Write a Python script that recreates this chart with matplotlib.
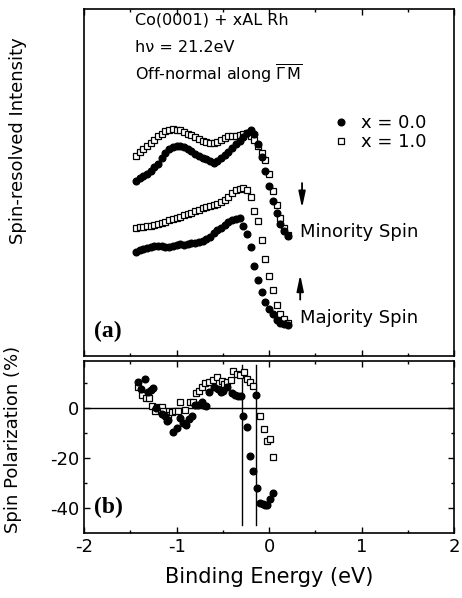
import matplotlib
matplotlib.use('Agg')
import matplotlib.pyplot as plt
import matplotlib.ticker as mticker

plt.rcParams['font.family'] = ['DejaVu Sans']
plt.rcParams['axes.unicode_minus'] = False

# (a) spin-resolved spectra, common binding energy grid (eV)
energy = [-1.44, -1.40, -1.36, -1.32, -1.28, -1.24, -1.20, -1.16, -1.12, -1.08,
          -1.04, -1.00, -0.96, -0.92, -0.88, -0.84, -0.80, -0.76, -0.72, -0.68,
          -0.64, -0.60, -0.56, -0.52, -0.48, -0.44, -0.40, -0.36, -0.32, -0.28,
          -0.24, -0.20, -0.16, -0.12, -0.08, -0.04, 0.00, 0.04, 0.08, 0.12,
          0.16, 0.20]

minority_x10 = [200, 204, 207, 210, 213, 216, 220, 222, 225, 226, 227, 226, 226, 224,
                222, 221, 219, 217, 215, 214, 213, 213, 214, 216, 218, 220, 220, 220,
                221, 222, 223, 220, 216, 210, 203, 196, 182, 165, 151, 138, 128, 121]
minority_x00 = [175, 178, 180, 182, 185, 189, 192, 198, 203, 207, 209, 210, 210, 209,
                207, 205, 202, 200, 198, 197, 195, 193, 195, 198, 201, 204, 208, 212,
                215, 219, 223, 226, 222, 212, 199, 185, 170, 155, 143, 132, 125, 120]
majority_x10 = [128, 129, 129, 130, 130, 131, 132, 133, 134, 136, 137, 138, 139, 141,
                142, 143, 145, 146, 148, 149, 150, 151, 152, 154, 156, 159, 163, 166,
                167, 168, 166, 159, 145, 135, 116, 97, 80, 66, 51, 42, 37, 33]
majority_x00 = [104, 106, 107, 108, 109, 110, 110, 110, 109, 109, 110, 111, 112, 111,
                112, 113, 113, 114, 115, 117, 119, 123, 126, 128, 131, 134, 136, 137,
                138, 130, 122, 109, 90, 76, 64, 54, 47, 42, 36, 33, 32, 31]

# (b) spin polarization (%)
pol_e_x00 = [-1.42, -1.38, -1.345, -1.305, -1.28, -1.255, -1.22, -1.16, -1.125, -1.105,
             -1.09, -1.035, -1.00, -0.965, -0.93, -0.895, -0.87, -0.835, -0.80, -0.765,
             -0.73, -0.71, -0.68, -0.645, -0.595, -0.55, -0.52, -0.495, -0.46, -0.405,
             -0.37, -0.335, -0.30, -0.28, -0.24, -0.205, -0.17, -0.14, -0.133, -0.097,
             -0.061, -0.04, -0.025, 0.011, 0.047]
pol_x00 = [10.6, 7.8, 11.7, 6.6, 7.2, 8.0, 0.0, -2.3, -3.0, -5.2,
           -4.5, -9.6, -7.8, -4.0, -5.8, -6.8, -4.3, -3.0, 1.5, 1.2,
           2.6, 1.3, 0.8, 6.6, 8.4, 7.7, 6.7, 7.0, 8.4, 6.1,
           5.3, 5.0, 4.8, -3.2, -7.6, -19.0, -25.0, 5.5, -32.0, -37.9,
           -38.4, -38.7, -39.0, -36.6, -34.0]
pol_e_x10 = [-1.42, -1.375, -1.335, -1.30, -1.268, -1.233, -1.207, -1.16, -1.142, -1.09,
             -1.052, -1.016, -0.98, -0.96, -0.91, -0.86, -0.825, -0.79, -0.76, -0.728,
             -0.69, -0.65, -0.61, -0.565, -0.51, -0.49, -0.45, -0.415, -0.39, -0.345,
             -0.31, -0.275, -0.24, -0.205, -0.17, -0.10, -0.06, -0.025, 0.011, 0.047]
pol_x10 = [8.4, 5.3, 4.1, 4.1, 0.8, -0.9, 0.7, 0.7, -0.9, -2.7,
           -1.3, -1.2, -1.2, 2.7, -0.5, 2.4, 2.4, 6.0, 6.8, 8.6,
           10.0, 10.4, 11.6, 12.7, 11.0, 9.7, 10.4, 11.5, 15.0, 14.0,
           13.3, 14.7, 11.7, 10.7, 9.0, -3.2, -8.3, -13.0, -12.3, -19.7]

marked_energies = [-0.29, -0.14]

fig = plt.figure(figsize=(4.62, 5.98), dpi=100)
ax_a = fig.add_axes([0.182, 0.405, 0.801, 0.580])
ax_b = fig.add_axes([0.182, 0.109, 0.801, 0.288], sharex=ax_a)

filled = dict(marker='o', ls='none', ms=4.8, color='black', mec='black')
hollow = dict(marker='s', ls='none', ms=4.2, mfc='white', mec='black', mew=0.9)

ax_a.plot(energy, minority_x10, zorder=2, **hollow)
ax_a.plot(energy, majority_x10, zorder=2, **hollow)
ax_a.plot(energy, minority_x00, zorder=3, label='x = 0.0', **filled)
ax_a.plot(energy, majority_x00, zorder=3, **filled)
# empty handle so the legend order matches the original
ax_a.plot([], [], label='x = 1.0', **hollow)

ax_a.set_xlim(-2, 2)
ax_a.set_ylim(0, 347)
ax_a.set_yticks([])
ax_a.set_ylabel('Spin-resolved Intensity', fontsize=13)
ax_a.yaxis.set_label_coords(-0.155, 0.62)

ax_a.text(0.138, 0.968, 'Co(0001) + xAL Rh', transform=ax_a.transAxes, fontsize=11.5, va='center')
ax_a.text(0.138, 0.888, 'h\u03bd = 21.2eV', transform=ax_a.transAxes, fontsize=11.5, va='center')
ax_a.text(0.138, 0.813, r'Off-normal along $\overline{\Gamma}\,\overline{\mathrm{M}}$',
          transform=ax_a.transAxes, fontsize=11.5, va='center')

ax_a.legend(loc='upper left', bbox_to_anchor=(0.645, 0.722), frameon=False, fontsize=13,
            handlelength=1.0, handletextpad=0.6, labelspacing=0.05, borderpad=0)

ax_a.text(0.584, 0.357, 'Minority Spin', transform=ax_a.transAxes, fontsize=13, va='center')
ax_a.text(0.584, 0.110, 'Majority Spin', transform=ax_a.transAxes, fontsize=13, va='center')
arrow_style = dict(arrowstyle='-|>,head_width=0.17,head_length=0.8',
                   color='black', lw=1.3, mutation_scale=12)
ax_a.annotate('', xy=(0.589, 0.418), xytext=(0.589, 0.506), xycoords='axes fraction',
              arrowprops=arrow_style)
ax_a.annotate('', xy=(0.584, 0.242), xytext=(0.584, 0.154), xycoords='axes fraction',
              arrowprops=arrow_style)
ax_a.text(0.065, 0.07, '(a)', transform=ax_a.transAxes, fontsize=17, fontweight='bold',
          family='Liberation Serif', ha='center', va='center')

ax_b.axhline(0, color='black', lw=1.0, zorder=1)
for e in marked_energies:
    ax_b.plot([e, e], [17.3, -46.7], color='black', lw=1.0, zorder=1)
ax_b.plot(pol_e_x10, pol_x10, zorder=2, **hollow)
ax_b.plot(pol_e_x00, pol_x00, zorder=3, **filled)

ax_b.set_ylim(-50, 19.2)
ax_b.yaxis.set_major_locator(mticker.FixedLocator([0, -20, -40]))
ax_b.yaxis.set_minor_locator(mticker.FixedLocator([10, -10, -30]))
ax_b.set_ylabel('Spin Polarization (%)', fontsize=13)
ax_b.yaxis.set_label_coords(-0.168, 0.54)
ax_b.set_xlabel('Binding Energy (eV)', fontsize=15, labelpad=8)
ax_b.text(0.065, 0.145, '(b)', transform=ax_b.transAxes, fontsize=17, fontweight='bold',
          family='Liberation Serif', ha='center', va='center')

ax_b.xaxis.set_major_locator(mticker.MultipleLocator(1))
ax_b.xaxis.set_minor_locator(mticker.MultipleLocator(0.5))

for ax in (ax_a, ax_b):
    ax.tick_params(which='both', direction='in', top=True, right=True, labelsize=13)
    ax.tick_params(which='major', length=4, width=1)
    ax.tick_params(which='minor', length=2.5, width=1)
    for spine in ax.spines.values():
        spine.set_linewidth(1.2)
ax_a.tick_params(axis='x', labelbottom=False)
ax_a.tick_params(axis='y', which='both', left=False, right=False)

plt.savefig('out.png', dpi=100)
